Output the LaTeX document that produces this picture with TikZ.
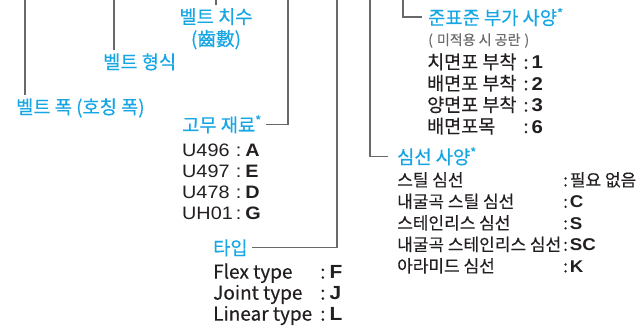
\documentclass[tikz,border=0pt]{standalone}
\usepackage{fontspec}
\setmainfont[FakeBold=0.35]{Noto Sans CJK KR}
\newfontfamily\latinfont[FakeStretch=1.1]{Liberation Sans}
\definecolor{labelblue}{RGB}{22,166,228}
\definecolor{leadgray}{RGB}{105,105,105}
\definecolor{textdark}{RGB}{35,31,32}
\newcommand{\codeletter}[1]{{\latinfont\bfseries #1}}

\begin{document}
\begin{tikzpicture}[x=1pt, y=-1pt,
    head/.style={text=labelblue, inner sep=0pt, font=\fontsize{18.7}{22}\selectfont},
    lead/.style={draw=leadgray, line width=1.1pt},
    items/.style={text=textdark, inner sep=0pt, anchor=base west}]
    \useasboundingbox (0,0) rectangle (643,328);

    % === Blue headings ===
    \node[head, anchor=base west] (width) at (16, 113.9) {벨트 폭 (호칭 폭)};
    \node[head, anchor=base west] (form) at (103, 68.9) {벨트 형식};
    \node[head, anchor=north, align=center] (size) at (216, 8) {벨트 치수\\(齒數)};
    \node[head, anchor=base west] (rubber) at (182, 131.9) {고무 재료\textsuperscript{*}};
    \node[head, anchor=base west] (kind) at (213, 254.9) {타입};
    \node[head, anchor=base west] (core) at (397, 163.9) {심선 사양\textsuperscript{*}};
    \node[head, anchor=base west] (extra) at (428, 24.6) {준표준 부가 사양\textsuperscript{*}};

    % === Leader lines from the code ===
    \coordinate (width-top) at (25, 0);
    \coordinate (form-top) at (114, 0);
    \coordinate (size-top) at (216, 0);
    \coordinate (rubber-top) at (288, 0);
    \coordinate (kind-top) at (337, 0);
    \coordinate (core-top) at (370, 0);
    \coordinate (extra-top) at (403, 0);
    \draw[lead, shorten >=3pt] (width-top) -- (width-top |- width.north);
    \draw[lead, shorten >=3pt] (form-top) -- (form-top |- form.north);
    \draw[lead, shorten >=3pt] (size-top) -- (size.north);
    \draw[lead] (rubber-top) |- ([xshift=4pt]rubber.east);
    \draw[lead] (kind-top) |- ([xshift=4pt]kind.east);
    \draw[lead] (core-top) |- ([xshift=-9pt]core.west);
    \draw[lead] (extra-top) |- ([xshift=-6pt]extra.west);

    % === Option lists ===
    \node[items, font=\latinfont\fontsize{18}{21}\selectfont] (rubber-list) at (182, 156.5)
        {\begin{tabular}[t]{@{}l@{\hspace{3pt}:\hspace{4pt}}l@{}}
         U496 & \textbf{A}\\ U497 & \textbf{E}\\ U478 & \textbf{D}\\ UH01 & \textbf{G}
         \end{tabular}};
    \node[items, font=\fontsize{19}{21}\selectfont] (kind-list) at (213, 278.6)
        {\begin{tabular}[t]{@{}l@{\hspace{8pt}:\hspace{4pt}}l@{}}
         Flex type & \codeletter{F}\\ Joint type & \codeletter{J}\\ Linear type & \codeletter{L}
         \end{tabular}};
    \node[items, text=gray!85!black, font=\fontsize{14}{16}\selectfont] (extra-note) at (428, 45)
        {(\hspace{4pt}미적용 시 공란\hspace{4pt})};
    \node[items, font=\fontsize{18.5}{20.3}\selectfont] (extra-list) at (427, 68.8)
        {\begin{tabular}[t]{@{}l@{\hspace{7pt}:\hspace{3pt}}l@{}}
         치면포 부착 & \codeletter{1}\\ 배면포 부착 & \codeletter{2}\\
         양면포 부착 & \codeletter{3}\\ 배면포목 & \codeletter{6}
         \end{tabular}};
    \node[items, font=\fontsize{17}{21.5}\selectfont] (core-list) at (397, 186.3)
        {\begin{tabular}[t]{@{}l@{\hspace{2pt}:\hspace{2pt}}l@{}}
         스틸 심선 & 필요 없음\\ 내굴곡 스틸 심선 & \codeletter{C}\\
         스테인리스 심선 & \codeletter{S}\\ 내굴곡 스테인리스 심선 & \codeletter{SC}\\
         아라미드 심선 & \codeletter{K}
         \end{tabular}};
\end{tikzpicture}
\end{document}
